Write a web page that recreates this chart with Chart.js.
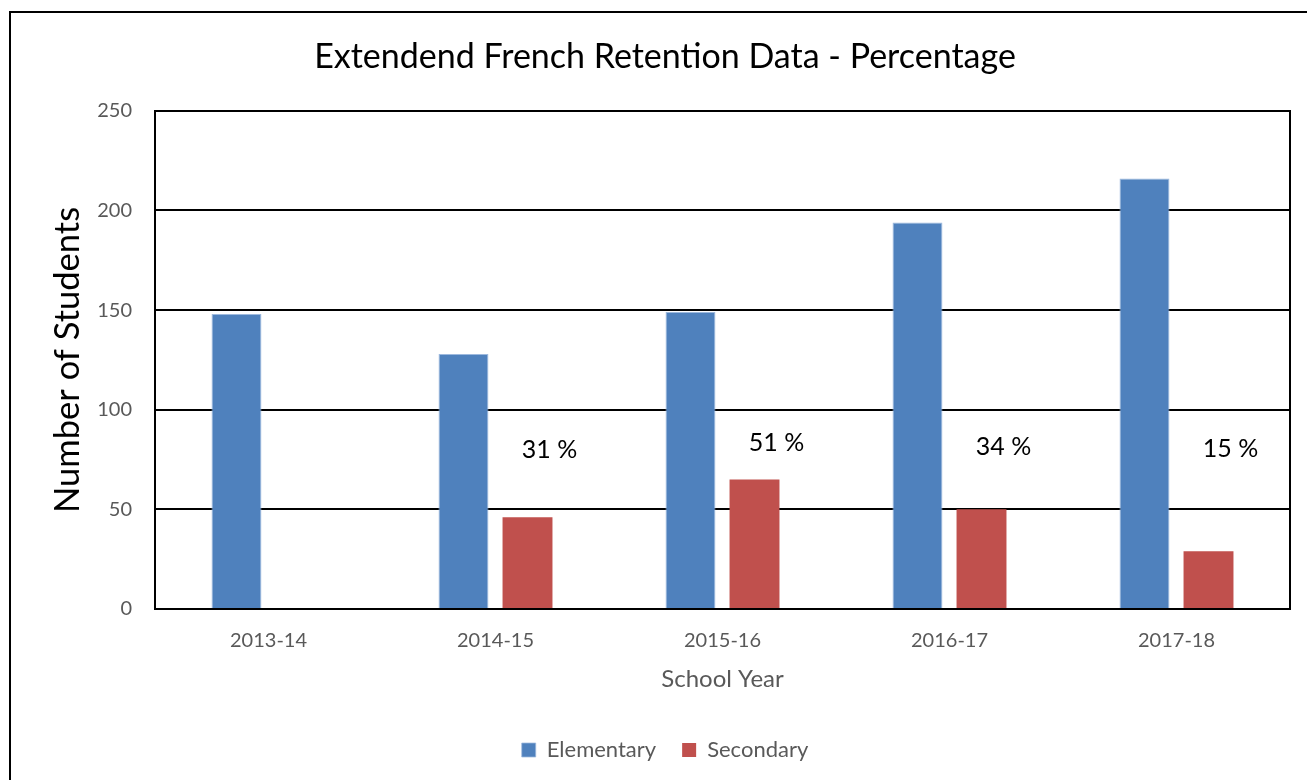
<!DOCTYPE html>
<html>
<head>
<meta charset="utf-8">
<script src="https://cdn.jsdelivr.net/npm/chart.js@4/dist/chart.umd.min.js"></script>
<style>
  html, body { margin: 0; padding: 0; background: #fff; }
  #wrap { position: relative; width: 1307px; height: 780px; overflow: hidden; }
  #frame { position: absolute; left: 9px; top: 11px; width: 1400px; height: 900px; border-left: 2px solid #000; border-top: 2px solid #000; pointer-events: none; }
  canvas { position: absolute; left: 0; top: 0; }
</style>
</head>
<body>
<div id="wrap">
  <canvas id="grafico" width="1307" height="780"></canvas>
  <div id="frame"></div>
</div>
<script>
// data
const schoolYears = ['2013-14', '2014-15', '2015-16', '2016-17', '2017-18'];
const elementary = [148, 128, 149, 194, 216];
const secondary = [null, 46, 65, 50, 29];
const retentionText = [null, '31 %', '51 %', '34 %', '15 %'];
const retentionLevel = [null, 80, 83.5, 81.5, 80.5];

const fonte = 'Lato, "Open Sans", sans-serif';
const cinza = '#595959';

// percentage labels placed next to the secondary bars
const rotulosRetencao = {
  id: 'rotulosRetencao',
  afterDatasetsDraw(chart) {
    const ctx = chart.ctx;
    const barras = chart.getDatasetMeta(1).data;
    ctx.save();
    ctx.font = '25px ' + fonte;
    ctx.fillStyle = '#000';
    ctx.textAlign = 'center';
    ctx.textBaseline = 'middle';
    retentionText.forEach((txt, i) => {
      if (!txt) return;
      const x = barras[i].x + 22;
      const y = chart.scales.y.getPixelForValue(retentionLevel[i]);
      ctx.fillText(txt, x, y);
    });
    ctx.restore();
  }
};

new Chart(document.getElementById('grafico').getContext('2d'), {
  type: 'bar',
  data: {
    labels: schoolYears,
    datasets: [
      {
        label: 'Elementary',
        data: elementary,
        backgroundColor: '#4F81BD',
        borderColor: '#9DB9DE',
        borderWidth: { left: 1, right: 1, top: 1, bottom: 0 },
        categoryPercentage: 0.564,
        barPercentage: 0.78
      },
      {
        label: 'Secondary',
        data: secondary,
        backgroundColor: '#C0504D',
        categoryPercentage: 0.564,
        barPercentage: 0.78
      }
    ]
  },
  options: {
    responsive: false,
    animation: false,
    layout: { padding: { left: 40, right: 17, top: 0, bottom: 9 } },
    plugins: {
      title: {
        display: true,
        text: 'Extendend French Retention Data - Percentage',
        color: '#000',
        font: { family: fonte, size: 34, weight: 'normal' },
        padding: { top: 37, bottom: 33 }
      },
      legend: {
        position: 'bottom',
        labels: {
          color: cinza,
          font: { family: fonte, size: 22 },
          boxWidth: 14,
          boxHeight: 14,
          padding: 26
        }
      },
      tooltip: { enabled: false }
    },
    scales: {
      x: {
        grid: { display: false, drawTicks: false },
        border: { display: true, color: '#000', width: 2 },
        ticks: { color: cinza, font: { family: fonte, size: 20 }, padding: 20 },
        title: {
          display: true,
          text: 'School Year',
          color: cinza,
          font: { family: fonte, size: 24 },
          padding: { top: 0, bottom: 19 }
        },
        afterFit(scale) { scale.height = 104; }
      },
      y: {
        min: 0,
        max: 250,
        ticks: { stepSize: 50, color: cinza, font: { family: fonte, size: 20 }, padding: 23 },
        grid: { color: '#000', lineWidth: 2, drawTicks: false },
        border: { display: true, color: '#000', width: 2 },
        title: {
          display: true,
          text: 'Number of Students',
          color: '#000',
          font: { family: fonte, size: 34.5 },
          padding: { top: 7, bottom: 0 }
        },
        afterFit(scale) { scale.width = 115; }
      },
      yDireita: {
        position: 'right',
        min: 0,
        max: 250,
        ticks: { display: false },
        grid: { display: false, drawTicks: false },
        border: { display: true, color: '#000', width: 2 },
        afterFit(scale) { scale.width = 0; }
      }
    }
  },
  plugins: [rotulosRetencao]
});
</script>
</body>
</html>
